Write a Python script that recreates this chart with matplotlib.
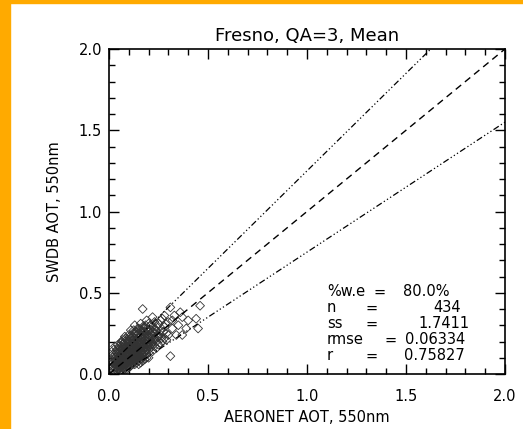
import matplotlib
matplotlib.use('Agg')
import matplotlib.pyplot as plt
import matplotlib.patches as patches
from matplotlib.ticker import MultipleLocator
import numpy as np

plt.rcParams['font.family'] = ['DejaVu Sans']

# (AERONET AOT, SWDB AOT) pairs
points = [
    (0.02, 0.05), (0.03, 0.03), (0.03, 0.08), (0.04, 0.02), (0.04, 0.06), (0.04, 0.11),
    (0.05, 0.04), (0.05, 0.08), (0.05, 0.13), (0.05, 0.17), (0.06, 0.02), (0.06, 0.06),
    (0.06, 0.10), (0.06, 0.15), (0.06, 0.19), (0.07, 0.04), (0.07, 0.08), (0.07, 0.12),
    (0.07, 0.16), (0.07, 0.21), (0.08, 0.03), (0.08, 0.06), (0.08, 0.10), (0.08, 0.14),
    (0.08, 0.18), (0.08, 0.23), (0.03, 0.12), (0.02, 0.10), (0.04, 0.15), (0.03, 0.17),
    (0.09, 0.05), (0.09, 0.09), (0.09, 0.13), (0.09, 0.17), (0.09, 0.21), (0.10, 0.04),
    (0.10, 0.08), (0.10, 0.11), (0.10, 0.15), (0.10, 0.19), (0.10, 0.24), (0.11, 0.06),
    (0.11, 0.10), (0.11, 0.13), (0.11, 0.17), (0.11, 0.22), (0.11, 0.27), (0.12, 0.07),
    (0.12, 0.11), (0.12, 0.15), (0.12, 0.19), (0.12, 0.23), (0.13, 0.08), (0.13, 0.12),
    (0.13, 0.16), (0.13, 0.20), (0.13, 0.25), (0.13, 0.30), (0.14, 0.09), (0.14, 0.13),
    (0.14, 0.17), (0.14, 0.21), (0.14, 0.26), (0.15, 0.10), (0.15, 0.14), (0.15, 0.18),
    (0.15, 0.22), (0.15, 0.28), (0.16, 0.11), (0.16, 0.15), (0.16, 0.19), (0.16, 0.24),
    (0.16, 0.31), (0.17, 0.12), (0.17, 0.17), (0.17, 0.21), (0.17, 0.26), (0.17, 0.40),
    (0.18, 0.14), (0.18, 0.19), (0.18, 0.23), (0.18, 0.29), (0.19, 0.15), (0.19, 0.20),
    (0.19, 0.25), (0.19, 0.33), (0.20, 0.13), (0.20, 0.18), (0.20, 0.22), (0.20, 0.27),
    (0.21, 0.16), (0.21, 0.21), (0.21, 0.30), (0.22, 0.19), (0.22, 0.24), (0.22, 0.35),
    (0.23, 0.17), (0.23, 0.22), (0.23, 0.28), (0.24, 0.20), (0.24, 0.26), (0.25, 0.23),
    (0.25, 0.31), (0.26, 0.19), (0.26, 0.27), (0.27, 0.34), (0.28, 0.22), (0.28, 0.29),
    (0.29, 0.25), (0.30, 0.32), (0.31, 0.41), (0.31, 0.11), (0.32, 0.28), (0.33, 0.36),
    (0.34, 0.24), (0.35, 0.30), (0.37, 0.35), (0.37, 0.24), (0.39, 0.28), (0.40, 0.33),
    (0.44, 0.34), (0.45, 0.28), (0.46, 0.42),
    (0.03, 0.04), (0.04, 0.07), (0.045, 0.09), (0.05, 0.06), (0.055, 0.11), (0.06, 0.08),
    (0.065, 0.05), (0.065, 0.13), (0.07, 0.10), (0.075, 0.07), (0.075, 0.14), (0.08, 0.12),
    (0.085, 0.09), (0.085, 0.16), (0.09, 0.11), (0.095, 0.07), (0.095, 0.14), (0.10, 0.13),
    (0.105, 0.10), (0.105, 0.17), (0.11, 0.12), (0.115, 0.08), (0.115, 0.15), (0.12, 0.13),
    (0.12, 0.17), (0.125, 0.10), (0.125, 0.21), (0.13, 0.14), (0.135, 0.18), (0.14, 0.11),
    (0.14, 0.15), (0.145, 0.20), (0.15, 0.12), (0.15, 0.16), (0.155, 0.19), (0.16, 0.13),
    (0.16, 0.17), (0.165, 0.22), (0.17, 0.15), (0.17, 0.19), (0.175, 0.24), (0.18, 0.17),
    (0.185, 0.21), (0.19, 0.18), (0.195, 0.23), (0.20, 0.20), (0.21, 0.18), (0.21, 0.25),
    (0.22, 0.21), (0.23, 0.25),
    (0.035, 0.06), (0.045, 0.03), (0.055, 0.02), (0.06, 0.04), (0.07, 0.06), (0.075, 0.03),
    (0.08, 0.08), (0.09, 0.07), (0.10, 0.06), (0.11, 0.08), (0.12, 0.09), (0.13, 0.10),
    (0.14, 0.07), (0.15, 0.08), (0.16, 0.09), (0.17, 0.10), (0.18, 0.11), (0.19, 0.12),
    (0.20, 0.10), (0.22, 0.14), (0.24, 0.16), (0.25, 0.18), (0.27, 0.20), (0.29, 0.21),
    (0.30, 0.24),
    (0.08, 0.20), (0.09, 0.19), (0.10, 0.21), (0.11, 0.19), (0.12, 0.25), (0.13, 0.22),
    (0.14, 0.24), (0.15, 0.25), (0.16, 0.27), (0.17, 0.29), (0.18, 0.26), (0.19, 0.28),
    (0.20, 0.31), (0.21, 0.27), (0.23, 0.32), (0.24, 0.29), (0.26, 0.33), (0.28, 0.36),
    (0.05, 0.15), (0.06, 0.12), (0.07, 0.18), (0.04, 0.13), (0.03, 0.10), (0.02, 0.07),
    (0.025, 0.02),
    (0.025, 0.06), (0.035, 0.09), (0.045, 0.12), (0.05, 0.10), (0.055, 0.07), (0.06, 0.14),
    (0.065, 0.09), (0.07, 0.14), (0.075, 0.11), (0.08, 0.16), (0.085, 0.12), (0.09, 0.15),
    (0.095, 0.10), (0.10, 0.17), (0.105, 0.12), (0.11, 0.15), (0.115, 0.11), (0.12, 0.14),
    (0.125, 0.16), (0.13, 0.13), (0.135, 0.15), (0.14, 0.19), (0.145, 0.14), (0.15, 0.20),
    (0.155, 0.15), (0.16, 0.21), (0.165, 0.16), (0.17, 0.23), (0.175, 0.18), (0.18, 0.21),
    (0.185, 0.16), (0.19, 0.22), (0.195, 0.19), (0.20, 0.24), (0.205, 0.17), (0.21, 0.23),
    (0.215, 0.20), (0.22, 0.26), (0.225, 0.18), (0.23, 0.21),
    (0.04, 0.05), (0.05, 0.03), (0.055, 0.05), (0.06, 0.07), (0.065, 0.03), (0.07, 0.05),
    (0.075, 0.09), (0.08, 0.05), (0.085, 0.07), (0.09, 0.03), (0.095, 0.05), (0.10, 0.09),
    (0.105, 0.07), (0.11, 0.05), (0.115, 0.10), (0.12, 0.06), (0.125, 0.08), (0.13, 0.06),
    (0.135, 0.09), (0.14, 0.12), (0.145, 0.10), (0.15, 0.06), (0.155, 0.11), (0.16, 0.07),
    (0.165, 0.12), (0.17, 0.08), (0.175, 0.13), (0.18, 0.09), (0.19, 0.10), (0.20, 0.15),
    (0.01, 0.03), (0.015, 0.08), (0.02, 0.12), (0.025, 0.15), (0.035, 0.14), (0.045, 0.18),
    (0.055, 0.16), (0.065, 0.20), (0.075, 0.19), (0.085, 0.22), (0.095, 0.20), (0.105, 0.23),
    (0.115, 0.21), (0.125, 0.27), (0.135, 0.26), (0.145, 0.28), (0.155, 0.23), (0.165, 0.26),
    (0.175, 0.28), (0.185, 0.30), (0.195, 0.27), (0.215, 0.29), (0.235, 0.27), (0.245, 0.23),
    (0.255, 0.25), (0.265, 0.22), (0.275, 0.26), (0.285, 0.31), (0.32, 0.33), (0.36, 0.38),
]

stat_names = ['%w.e', 'n', 'ss', 'rmse', 'r']
stat_values = ['80.0%', '434', '1.7411', '0.06334', '0.75827']

# expected error envelope: +/-(0.05 + 0.2*tau)
ee_abs = 0.05
ee_rel = 0.2

aeronet_aot, swdb_aot = np.array(points).T

fig = plt.figure(figsize=(5.23, 4.29), dpi=100)
W, H = 523, 429

# orange slide border
fig.patches.append(patches.Rectangle((0, 0), 10 / W, 1, transform=fig.transFigure,
                                     color='#FFAA00', zorder=0))
fig.patches.append(patches.Rectangle((0, 1 - 3 / H), 1, 3 / H, transform=fig.transFigure,
                                     color='#FFAA00', zorder=0))

ax = fig.add_axes([109 / W, 1 - 374 / H, 396 / W, 325 / H])

ax.scatter(aeronet_aot, swdb_aot, marker='D', s=20, facecolors='none',
           edgecolors='0.2', linewidths=0.6, zorder=2)

xx = np.array([0.0, 2.0])
ax.plot(xx, xx, color='black', lw=1.0, linestyle=(0, (5, 3.5)), zorder=3)
ax.plot(xx, xx * (1 + ee_rel) + ee_abs, color='black', lw=0.9,
        linestyle=(0, (5, 2, 1, 2, 1, 2, 1, 2)), zorder=3)
ax.plot(xx, xx * (1 - ee_rel) - ee_abs, color='black', lw=0.9,
        linestyle=(0, (5, 2, 1, 2, 1, 2, 1, 2)), zorder=3)

ax.set_xlim(0, 2.0)
ax.set_ylim(0, 2.0)
ax.xaxis.set_major_locator(MultipleLocator(0.5))
ax.yaxis.set_major_locator(MultipleLocator(0.5))
ax.xaxis.set_minor_locator(MultipleLocator(0.1))
ax.yaxis.set_minor_locator(MultipleLocator(0.1))
ax.xaxis.set_major_formatter(lambda v, p: f'{v:.1f}')
ax.yaxis.set_major_formatter(lambda v, p: f'{v:.1f}')
ax.tick_params(which='both', direction='in', top=True, right=True,
               labelsize=10.5, width=1.0, color='black')
ax.tick_params(which='major', length=7)
ax.tick_params(which='minor', length=4)
ax.tick_params(axis='x', which='major', pad=11)
ax.tick_params(axis='y', which='major', pad=5)
for s in ax.spines.values():
    s.set_linewidth(1.2)

ax.set_title('Fresno, QA=3, Mean', fontsize=13, pad=6)
ax.set_xlabel('AERONET AOT, 550nm', fontsize=10.5, labelpad=4)
ax.set_ylabel('SWDB AOT, 550nm', fontsize=10.5, labelpad=12)

# statistics block, positioned in pixel coords
eq_x = [380, 372, 372, 391, 372]
val_x = [403, 433, 418, 405, 404]
for i, (name, val) in enumerate(zip(stat_names, stat_values)):
    yp = 1 - (292 + i * 16) / H
    fig.text(327 / W, yp, name, fontsize=10.5, va='center', ha='left')
    fig.text(eq_x[i] / W, yp, '=', fontsize=10.5, va='center', ha='center')
    fig.text(val_x[i] / W, yp, val, fontsize=10.5, va='center', ha='left')

fig.savefig('out.png', dpi=100)
